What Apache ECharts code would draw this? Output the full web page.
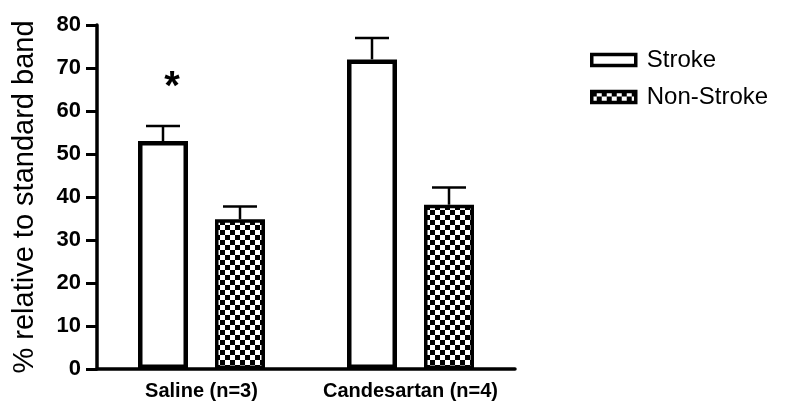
<!DOCTYPE html>
<html>
<head>
<meta charset="utf-8">
<script src="https://cdn.jsdelivr.net/npm/echarts@6/dist/echarts.min.js"></script>
<style>
html, body { margin: 0; padding: 0; background: #fff; }
#chart { width: 785px; height: 411px; }
</style>
</head>
<body>
<div id="chart"></div>
<script>
var categories = ['Saline (n=3)', 'Candesartan (n=4)'];
var strokeMean = [53, 72];
var strokeSem = [3.5, 5];
var nonStrokeMean = [34.8, 38.2];
var nonStrokeSem = [3, 4];
var strokeMarks = ['*', ''];
var yTicks = [0, 10, 20, 30, 40, 50, 60, 70, 80];

var barWidth = 50;
var barGap = 0.54;

// checker fill for the Non-Stroke bars
var cv = document.createElement('canvas');
cv.width = 10; cv.height = 10;
var ctx = cv.getContext('2d');
ctx.fillStyle = '#fff';
ctx.fillRect(0, 0, 10, 10);
ctx.fillStyle = '#000';
ctx.fillRect(0, 0, 5, 5);
ctx.fillRect(5, 5, 5, 5);
var checker = { image: cv, repeat: 'repeat' };

function errData(mean, sem, marks) {
    return mean.map(function (m, i) {
        return [i, m, m + sem[i], marks ? marks[i] : ''];
    });
}

function errRender(side) {
    return function (params, api) {
        var off = side * (barWidth + barWidth * barGap) / 2;
        var base = api.coord([api.value(0), api.value(1)]);
        var top = api.coord([api.value(0), api.value(2)]);
        var x = base[0] + off;
        var children = [
            { type: 'line', shape: { x1: x, y1: base[1], x2: x, y2: top[1] }, style: { stroke: '#000', lineWidth: 2.5 } },
            { type: 'line', shape: { x1: x - 17, y1: top[1], x2: x + 17, y2: top[1] }, style: { stroke: '#000', lineWidth: 2.5 } }
        ];
        var mark = api.value(3);
        if (mark) {
            children.push({
                type: 'text',
                style: { text: mark, x: x + 9, y: top[1] - 38, align: 'center', verticalAlign: 'middle',
                    fontSize: 40, fontWeight: 'bold', fontFamily: 'Liberation Sans', fill: '#000' }
            });
        }
        return { type: 'group', children: children };
    };
}

var chart = echarts.init(document.getElementById('chart'));
var option = {
    animation: false,
    backgroundColor: '#fff',
    grid: { left: 97, top: 25, right: 270, bottom: 42 },
    legend: {
        orient: 'vertical',
        left: 585,
        top: 43,
        itemWidth: 44,
        itemHeight: 11,
        itemGap: 13,
        selectedMode: false,
        textStyle: { fontSize: 24, fontFamily: 'Liberation Sans', color: '#000', padding: [0, 0, 0, 6] },
        data: [
            { name: 'Stroke', icon: 'rect', itemStyle: { color: '#fff', borderColor: '#000', borderWidth: 3.5 } },
            { name: 'Non-Stroke', icon: 'rect', itemStyle: { color: checker, borderColor: '#000', borderWidth: 3.5 } }
        ]
    },
    xAxis: {
        type: 'category',
        data: categories,
        axisLine: { lineStyle: { color: '#000', width: 3.5 } },
        axisTick: { alignWithLabel: true, length: 8, lineStyle: { color: '#000', width: 3 } },
        axisLabel: { interval: 0, fontSize: 20, fontWeight: 'bold', fontFamily: 'Liberation Sans', color: '#000', margin: 12 }
    },
    yAxis: {
        type: 'value',
        min: yTicks[0],
        max: yTicks[yTicks.length - 1],
        interval: 10,
        name: '% relative to standard band',
        nameLocation: 'middle',
        nameGap: 58,
        nameTextStyle: { fontSize: 29, fontFamily: 'Liberation Sans', color: '#000' },
        splitLine: { show: false },
        axisLine: { show: true, lineStyle: { color: '#000', width: 3.5 } },
        axisTick: { show: true, length: 11, lineStyle: { color: '#000', width: 3 } },
        axisLabel: { fontSize: 22, fontWeight: 'bold', fontFamily: 'Liberation Sans', color: '#000', margin: 16 }
    },
    series: [
        {
            name: 'Stroke',
            type: 'bar',
            data: strokeMean,
            barWidth: barWidth,
            barGap: (barGap * 100) + '%',
            itemStyle: { color: '#fff', borderColor: '#000', borderWidth: 4.5 }
        },
        {
            name: 'Non-Stroke',
            type: 'bar',
            data: nonStrokeMean,
            barWidth: barWidth,
            barGap: (barGap * 100) + '%',
            itemStyle: { color: checker, borderColor: '#000', borderWidth: 3.5 }
        },
        {
            name: 'strokeErr',
            type: 'custom',
            data: errData(strokeMean, strokeSem, strokeMarks),
            encode: { x: 0, y: [1, 2] },
            renderItem: errRender(-1),
            z: 3
        },
        {
            name: 'nonStrokeErr',
            type: 'custom',
            data: errData(nonStrokeMean, nonStrokeSem),
            encode: { x: 0, y: [1, 2] },
            renderItem: errRender(1),
            z: 3
        }
    ]
};
chart.setOption(option);
</script>
</body>
</html>
